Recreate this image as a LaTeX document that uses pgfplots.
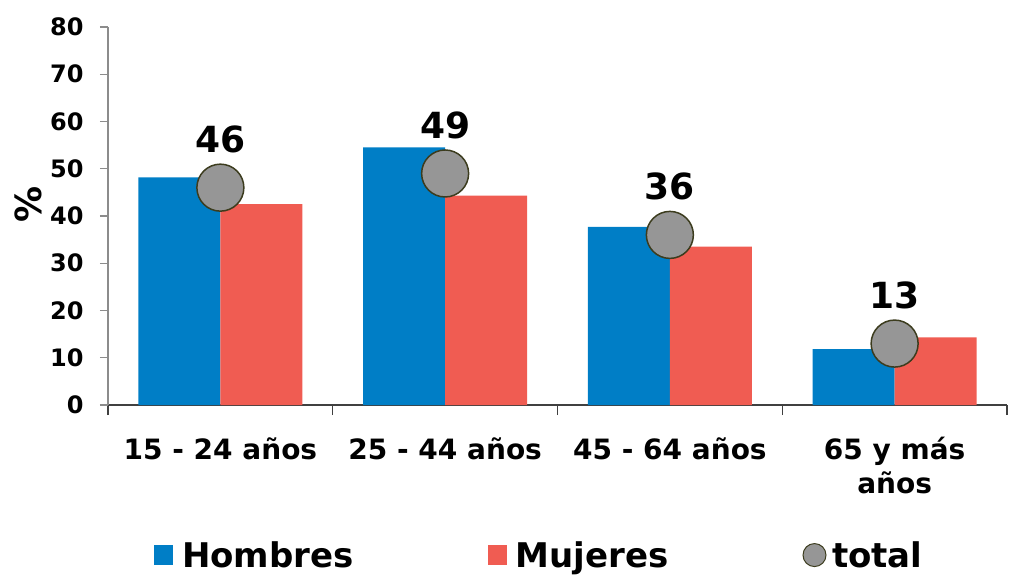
\documentclass[border=0pt]{standalone}
\usepackage{pgfplots}
\pgfplotsset{compat=1.18}
\usepackage{fontspec}
\setmainfont{DejaVu Sans}
\definecolor{hblue}{RGB}{0,126,198}
\definecolor{mred}{RGB}{240,92,82}
\definecolor{tgray}{RGB}{150,150,150}
\definecolor{tedge}{RGB}{60,60,30}
\begin{document}
\begin{tikzpicture}
\path[use as bounding box] (0,0) rectangle (1015pt,579pt);
\begin{axis}[
 at={(108pt,174pt)}, anchor=south west,
 scale only axis, width=899pt, height=378pt,
 xmin=-0.5, xmax=3.5, ymin=0, ymax=80,
 axis x line*=bottom, axis y line*=left,
 x axis line style={color=black!75, line width=1.2pt, -},
 y axis line style={color=black!45, line width=1.2pt, -},
 ytick={0,10,...,80},
 xtick={0,1,2,3},
 xticklabels={15 - 24 años, 25 - 44 años, 45 - 64 años, {65 y más\\años}},
 minor xtick={-0.5,0.5,1.5,2.5,3.5},
 tick align=outside,
 major x tick style={draw=none},
 minor x tick style={black!75, line width=1.2pt},
 minor tick length=10pt,
 y tick style={black!45, line width=1.2pt},
 major tick length=8pt,
 /pgf/number format/assume math mode=true,
 yticklabel style={font=\bfseries\fontsize{24}{24}\selectfont, xshift=-13pt},
 xticklabel style={font=\bfseries\fontsize{28}{34}\selectfont, align=center, yshift=-21pt},
 ylabel={\%},
 ylabel style={font=\bfseries\fontsize{36}{36}\selectfont, at={(axis description cs:-0.088,0.53)}, anchor=center},
 legend style={draw=none, at={(0.051,-0.397)}, anchor=west, legend columns=3,
   font=\bfseries\fontsize{34}{34}\selectfont, inner sep=0pt,
   /tikz/every even column/.append style={column sep=132pt}},
 legend cell align=left,
]
\addplot[ybar, bar width=82pt, bar shift=-41pt, fill=hblue, draw=none,
  legend image code/.code={\fill[hblue] (0pt,-10pt) rectangle (19pt,10pt); \path[draw=none,fill=none] (0pt,0pt) -- (26pt,0pt);}]
  coordinates {(0,48.2) (1,54.5) (2,37.7) (3,11.8)};
\addlegendentry{Hombres}
\addplot[ybar, bar width=82pt, bar shift=41pt, fill=mred, draw=none,
  legend image code/.code={\fill[mred] (0pt,-10pt) rectangle (19pt,10pt); \path[draw=none,fill=none] (0pt,0pt) -- (26pt,0pt);}]
  coordinates {(0,42.5) (1,44.3) (2,33.5) (3,14.3)};
\addlegendentry{Mujeres}
\addplot[only marks, mark=*, mark size=23.5pt,
  mark options={fill=tgray, draw=tedge, line width=1.5pt},
  nodes near coords,
  every node near coord/.append style={font=\bfseries\fontsize{36}{36}\selectfont, anchor=south, yshift=34pt, inner sep=0pt},
  legend image code/.code={\draw[fill=tgray, draw=tedge, line width=1pt] (11.5pt,0pt) circle (11.5pt); \path[draw=none,fill=none] (0pt,0pt) -- (27pt,0pt);}]
  coordinates {(0,46) (1,49) (2,36) (3,13)};
\addlegendentry{total}
\end{axis}
\end{tikzpicture}
\end{document}
